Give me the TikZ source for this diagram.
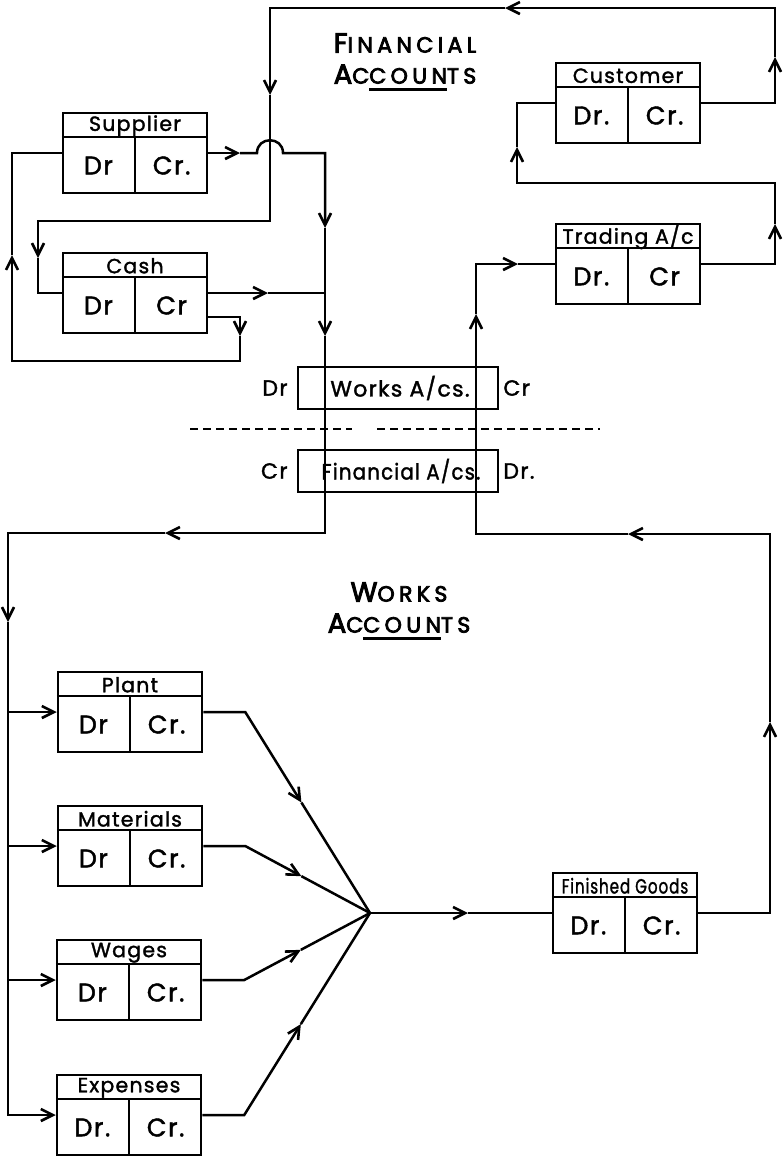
\documentclass[tikz,border=0pt]{standalone}
\usepackage{fontspec}
\usepackage{graphicx}
\setmainfont{Poppins}[LetterSpace=6, FakeBold=1.6]
\newfontfamily\headfont{Poppins}[LetterSpace=20, FakeBold=3.5]
\usetikzlibrary{arrows.meta,calc,positioning}
\newcommand{\capsword}[2]{{\fontsize{27.5}{31}\selectfont #1}{\fontsize{22}{31}\selectfont #2}}
\newcommand{\underrule}[1]{\setbox0=\hbox{#1}\rlap{\rule[-7pt]{\wd0}{2.2pt}}\box0}
\tikzset{
  every node/.style={font=\fontsize{22}{22}\selectfont, text=black, inner sep=0pt},
  wire/.style={draw=black, line width=2.5pt},
  flowtip/.style={-{Straight Barb[length=12pt,width=12pt,line width=2.6pt]}},
  acct/.style={wire, minimum width=144pt, minimum height=80pt},
  accttitle/.style={font=\fontsize{20.5}{20.5}\selectfont},
  drcr/.style={font=\fontsize{25.5}{25.5}\selectfont},
  ledger/.style={wire, minimum width=200pt, minimum height=42pt},
  heading/.style={align=center, font=\headfont\fontsize{27.5}{31}\selectfont},
  divider/.style={draw=black, line width=1.6pt, dash pattern=on 8pt off 5pt},
}
% T-shaped ledger account: name, centre, title, debit and credit labels
\newcommand{\account}[5]{%
  \node[acct] (#1) at (#2) {};
  \draw[wire] ($(#1.north west)+(0,25)$) -- ($(#1.north east)+(0,25)$);
  \draw[wire] ($(#1.north)+(0,25)$) -- (#1.south);
  \node[accttitle] (#1-title) at ($(#1.north)+(0,14)$) {#3};
  \node[drcr] (#1-dr) at ($(#1.west)!0.5!(#1.center)+(0,12.5)$) {#4};
  \node[drcr] (#1-cr) at ($(#1.east)!0.5!(#1.center)+(0,12.5)$) {#5};
}

\begin{document}
\begin{tikzpicture}[x=1pt, y=-1pt]
  \useasboundingbox (0,0) rectangle (784,1157);
  % Financial side
  \node[heading] (finhead) at (405,62)
    {\capsword{F}{INANCIAL}\\\capsword{A}{C\underrule{COUN}TS}};
  \account{sup}{135,153}{Supplier}{Dr}{Cr.}
  \account{cash}{135,293}{Cash}{Dr}{Cr}
  \account{cust}{628,103}{Customer}{Dr.}{Cr.}
  \account{trad}{628,264}{Trading A/c}{Dr.}{Cr}

  % the two control accounts and the dividing line
  \node[ledger] (works) at (398,388) {\hspace*{4pt}Works A/cs.};
  \node[left=9pt of works] (works-dr) {Dr};
  \node[right=4pt of works] (works-cr) {Cr};
  \node[ledger] (fin) at (398,471) {\hspace*{6pt}\scalebox{0.9}[1]{Financial A/cs.}};
  \node[left=9pt of fin] (fin-cr) {Cr};
  \node[right=4pt of fin] (fin-dr) {Dr.};
  \draw[divider] (190,429) -- (352,429);
  \draw[divider] (377,429) -- (600,429);

  % Works side
  \node[heading] (workhead) at (399,611)
    {\capsword{W}{ORKS}\\\capsword{A}{C\underrule{COUN}TS}};
  \account{plant}{130,712}{Plant}{Dr}{Cr.}
  \account{mat}{130,846}{Materials}{Dr}{Cr.}
  \account{wag}{129,980}{Wages}{Dr}{Cr.}
  \account{exp}{129,1115}{Expenses}{Dr.}{Cr.}
  \account{fg}{625,913}{\scalebox{0.74}[1]{Finished Goods}}{Dr.}{Cr.}

  % junction and arrow points
  \coordinate (join) at (370,913);
  \coordinate (sup-a) at (240,153);
  \coordinate (sup-b) at (325,228);
  \coordinate (sup-c) at (325,336);
  \coordinate (down-a) at (165,533);
  \coordinate (down-b) at (8,622);
  \coordinate (cash-a) at (268,293);
  \coordinate (cash-b) at (240,336);
  \coordinate (cash-c) at (12,255);
  \coordinate (cust-a) at (775,57);
  \coordinate (cust-b) at (505,8);
  \coordinate (cust-c) at (270,95);
  \coordinate (cust-d) at (38,258);
  \coordinate (trad-a) at (775,224);
  \coordinate (trad-b) at (517,147);
  \coordinate (fg-a) at (770,722);
  \coordinate (fg-b) at (628,534);
  \coordinate (fg-c) at (476,314);
  \coordinate (fg-d) at (518,264);
  \coordinate (join-a) at (468,913);

  % Supplier and Cash credits into Works A/cs
  \draw[wire, flowtip] (sup.east) -- (sup-a);
  \draw[wire, flowtip] (sup-a) -- (257,153)
    .. controls (257,136) and (283,136) .. (283,153) -| (sup-b);
  \draw[wire, flowtip] (sup-b) -- (sup-c);
  \draw[wire, flowtip] (sup-c) |- (down-a);
  \draw[wire, flowtip] (down-a) -| (down-b);
  \draw[wire, flowtip] (down-b) |- (exp.west);
  \draw[wire, flowtip] (plant.west -| down-b) -- (plant.west);
  \draw[wire, flowtip] (mat.west -| down-b) -- (mat.west);
  \draw[wire, flowtip] (wag.west -| down-b) -- (wag.west);
  \draw[wire, flowtip] (cash.east) -- (cash-a);
  \draw[wire] (cash-a) -- (cash-a -| sup-b);

  % Cash credit to Supplier debit
  \draw[wire, flowtip] ($(cash.east)+(0,24)$) -| (cash-b);
  \draw[wire, flowtip] (cash-b) -- (240,361) -| (cash-c);
  \draw[wire] (cash-c) |- (sup.west);

  % Customer credit round the top to Cash debit
  \draw[wire, flowtip] (cust.east) -| (cust-a);
  \draw[wire, flowtip] (cust-a) |- (cust-b);
  \draw[wire, flowtip] (cust-b) -| (cust-c);
  \draw[wire, flowtip] (cust-c) -- (270,221) -| (cust-d);
  \draw[wire] (cust-d) |- (cash.west);

  % Trading credit to Customer debit
  \draw[wire, flowtip] (trad.east) -| (trad-a);
  \draw[wire, flowtip] (trad-a) |- (517,183) -- (trad-b);
  \draw[wire] (trad-b) |- (cust.west);

  % Works accounts into Finished Goods
  \foreach \src in {plant, mat, wag, exp} {
    \draw[wire, flowtip] (\src.east) -- ++(42,0) coordinate (\src-bend)
      -- ($(\src-bend)!0.45!(join)$);
    \draw[wire] ($(\src-bend)!0.45!(join)$) -- (join);
  }
  \draw[wire, flowtip] (join) -- (join-a);
  \draw[wire] (join-a) -- (fg.west);

  % Finished Goods credit back up to Trading debit
  \draw[wire, flowtip] (fg.east) -| (fg-a);
  \draw[wire, flowtip] (fg-a) |- (fg-b);
  \draw[wire, flowtip] (fg-b) -| (fg-c);
  \draw[wire, flowtip] (fg-c) |- (fg-d);
  \draw[wire] (fg-d) -- (trad.west);
\end{tikzpicture}
\end{document}
